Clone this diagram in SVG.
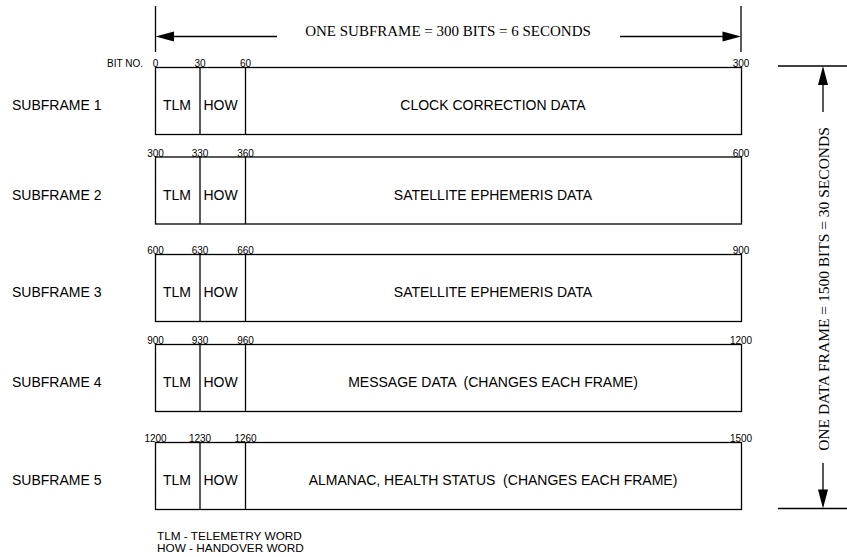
<svg xmlns="http://www.w3.org/2000/svg" width="847" height="557" viewBox="0 0 847 557">
<style>
.ln{stroke:#000;stroke-width:1.3;fill:none}
.bx{stroke:#000;stroke-width:1.3;fill:#fff}
.s{font-family:"Liberation Sans",Arial,sans-serif;fill:#000}
.lab{font-size:14px}
.bit{font-size:10px;text-anchor:middle}
.mid{text-anchor:middle}
.t{font-family:"Liberation Serif","Times New Roman",serif;font-size:15px;fill:#000;text-anchor:middle}
.ah{fill:#000;stroke:none}
</style>
<rect width="847" height="557" fill="#fff"/>

<g id="dimensions">
  <line class="ln" x1="155.5" y1="6" x2="155.5" y2="52"/>
  <line class="ln" x1="741" y1="6" x2="741" y2="52"/>
  <line class="ln" x1="170" y1="36.5" x2="277" y2="36.5"/>
  <polygon class="ah" points="155.5,36.5 174,31.5 174,41.5"/>
  <line class="ln" x1="620" y1="36.5" x2="726" y2="36.5"/>
  <polygon class="ah" points="741,36.5 722.5,31.5 722.5,41.5"/>
  <text class="t" x="448" y="36">ONE SUBFRAME = 300 BITS = 6 SECONDS</text>

  <line class="ln" x1="778" y1="66" x2="847" y2="66"/>
  <line class="ln" x1="778" y1="508.5" x2="847" y2="508.5"/>
  <line class="ln" x1="823" y1="82" x2="823" y2="112"/>
  <polygon class="ah" points="823,66 818,85 828,85"/>
  <line class="ln" x1="823" y1="463" x2="823" y2="492"/>
  <polygon class="ah" points="823,508.5 818,489.5 828,489.5"/>
  <text class="t" style="font-size:15.5px" transform="translate(829,289) rotate(-90)">ONE DATA FRAME = 1500 BITS = 30 SECONDS</text>
</g>

<text class="s bit" x="125" y="66.5">BIT NO.</text>

<g id="subframe1">
  <text class="s lab" x="12" y="110">SUBFRAME 1</text>
  <rect class="bx" x="155.5" y="67.5" width="586" height="67"/>
  <line class="ln" x1="200" y1="67.5" x2="200" y2="134.5"/>
  <line class="ln" x1="245.5" y1="67.5" x2="245.5" y2="134.5"/>
  <text class="s lab" x="163" y="110">TLM</text>
  <text class="s lab" x="203.5" y="110">HOW</text>
  <text class="s lab mid" x="493" y="110">CLOCK CORRECTION DATA</text>
  <text class="s bit" x="155.5" y="67">0</text>
  <text class="s bit" x="200" y="67">30</text>
  <text class="s bit" x="245.5" y="67">60</text>
  <text class="s bit" x="741" y="67">300</text>
</g>

<g id="subframe2">
  <text class="s lab" x="12" y="199.5">SUBFRAME 2</text>
  <rect class="bx" x="155.5" y="157" width="586" height="67"/>
  <line class="ln" x1="200" y1="157" x2="200" y2="224"/>
  <line class="ln" x1="245.5" y1="157" x2="245.5" y2="224"/>
  <text class="s lab" x="163" y="199.5">TLM</text>
  <text class="s lab" x="203.5" y="199.5">HOW</text>
  <text class="s lab mid" x="493" y="199.5">SATELLITE EPHEMERIS DATA</text>
  <text class="s bit" x="155.5" y="156.5">300</text>
  <text class="s bit" x="200" y="156.5">330</text>
  <text class="s bit" x="245.5" y="156.5">360</text>
  <text class="s bit" x="741" y="156.5">600</text>
</g>

<g id="subframe3">
  <text class="s lab" x="12" y="297">SUBFRAME 3</text>
  <rect class="bx" x="155.5" y="254.5" width="586" height="67"/>
  <line class="ln" x1="200" y1="254.5" x2="200" y2="321.5"/>
  <line class="ln" x1="245.5" y1="254.5" x2="245.5" y2="321.5"/>
  <text class="s lab" x="163" y="297">TLM</text>
  <text class="s lab" x="203.5" y="297">HOW</text>
  <text class="s lab mid" x="493" y="297">SATELLITE EPHEMERIS DATA</text>
  <text class="s bit" x="155.5" y="254">600</text>
  <text class="s bit" x="200" y="254">630</text>
  <text class="s bit" x="245.5" y="254">660</text>
  <text class="s bit" x="741" y="254">900</text>
</g>

<g id="subframe4">
  <text class="s lab" x="12" y="387">SUBFRAME 4</text>
  <rect class="bx" x="155.5" y="344.5" width="586" height="67"/>
  <line class="ln" x1="200" y1="344.5" x2="200" y2="411.5"/>
  <line class="ln" x1="245.5" y1="344.5" x2="245.5" y2="411.5"/>
  <text class="s lab" x="163" y="387">TLM</text>
  <text class="s lab" x="203.5" y="387">HOW</text>
  <text class="s lab mid" x="493" y="387" xml:space="preserve">MESSAGE DATA  (CHANGES EACH FRAME)</text>
  <text class="s bit" x="155.5" y="344">900</text>
  <text class="s bit" x="200" y="344">930</text>
  <text class="s bit" x="245.5" y="344">960</text>
  <text class="s bit" x="741" y="344">1200</text>
</g>

<g id="subframe5">
  <text class="s lab" x="12" y="485">SUBFRAME 5</text>
  <rect class="bx" x="155.5" y="442.5" width="586" height="67"/>
  <line class="ln" x1="200" y1="442.5" x2="200" y2="509.5"/>
  <line class="ln" x1="245.5" y1="442.5" x2="245.5" y2="509.5"/>
  <text class="s lab" x="163" y="485">TLM</text>
  <text class="s lab" x="203.5" y="485">HOW</text>
  <text class="s lab mid" x="493" y="485" xml:space="preserve">ALMANAC, HEALTH STATUS  (CHANGES EACH FRAME)</text>
  <text class="s bit" x="155.5" y="442">1200</text>
  <text class="s bit" x="200" y="442">1230</text>
  <text class="s bit" x="245.5" y="442">1260</text>
  <text class="s bit" x="741" y="442">1500</text>
</g>

<g id="legend">
  <text class="s" font-size="11.8" x="157" y="539.5">TLM - TELEMETRY WORD</text>
  <text class="s" font-size="11.8" x="157" y="552">HOW - HANDOVER WORD</text>
</g>
</svg>
